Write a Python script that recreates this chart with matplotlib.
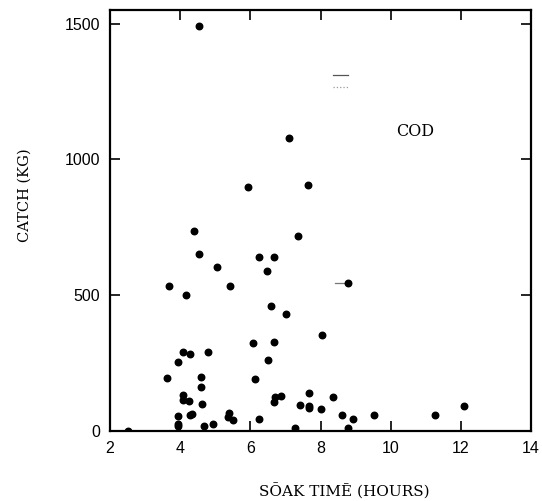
import matplotlib
matplotlib.use("Agg")
import matplotlib.pyplot as plt

# soak time (hours) and cod catch (kg)
soak_time = [2.5, 3.62, 3.68, 3.94, 3.94, 3.94, 3.94, 4.08, 4.08, 4.08,
             4.25, 4.17, 4.28, 4.28, 4.33, 4.39, 4.54, 4.54, 4.60, 4.60,
             4.62, 4.68, 4.79, 4.94, 5.05, 5.37, 5.40, 5.50, 5.42, 5.93,
             6.07, 6.13, 6.25, 6.25, 6.48, 6.50, 6.59, 6.68, 6.68, 6.70,
             6.68, 6.87, 7.02, 7.10, 7.27, 7.36, 7.42, 7.65, 7.67, 7.67,
             7.67, 8.02, 8.04, 8.36, 8.61, 8.78, 8.78, 8.93, 9.53, 11.27,
             12.09]
catch = [0, 195, 534, 254, 55, 26, 18, 291, 133, 114,
         111, 501, 284, 59, 63, 737, 1493, 652, 199, 162,
         100, 18, 291, 26, 605, 52, 66, 41, 534, 899,
         324, 192, 641, 44, 590, 262, 461, 641, 328, 125,
         107, 129, 431, 1080, 11, 719, 96, 907, 140, 92,
         85, 81, 354, 125, 59, 545, 11, 44, 59, 59,
         92]

x_ticks = [2, 4, 6, 8, 10, 12, 14]
y_ticks = [0, 500, 1000, 1500]

serif = ["DejaVu Serif"]

fig = plt.figure(figsize=(5.42, 5.01), dpi=100)
ax = fig.add_axes([0.203, 0.1397, 0.777, 0.8403])

ax.scatter(soak_time, catch, s=22, color="black", zorder=3)

ax.set_xlim(2, 14)
ax.set_ylim(0, 1550)
ax.set_xticks(x_ticks)
ax.set_yticks(y_ticks)
ax.tick_params(direction="in", length=7, width=1.2, top=True, right=True,
               labelsize=11.5, pad=7)
for lab in ax.get_xticklabels() + ax.get_yticklabels():
    lab.set_fontfamily("Liberation Sans")
for sp in ax.spines.values():
    sp.set_linewidth(1.6)

# leftover key marks from the original plot
ax.plot([0.53, 0.565], [0.846, 0.846], transform=ax.transAxes,
        color="#555555", lw=0.9)
ax.plot([0.53, 0.565], [0.817, 0.817], transform=ax.transAxes,
        color="#999999", lw=0.9, ls=":")
ax.plot([8.41, 8.70], [545, 545], color="#777777", lw=0.9)

ax.text(0.7245, 0.7126, "COD", transform=ax.transAxes, ha="center",
        va="center", fontsize=11.5, family=serif)

fig.text(0.045, 0.61, "CATCH (KG)", rotation=90, ha="center", va="center",
         fontsize=10.5, family=serif)
fig.text(0.635, 0.018, "SŌAK TIMĒ (HOURS)", ha="center", va="center",
         fontsize=11, family=serif)

fig.savefig("out.png", dpi=100)
